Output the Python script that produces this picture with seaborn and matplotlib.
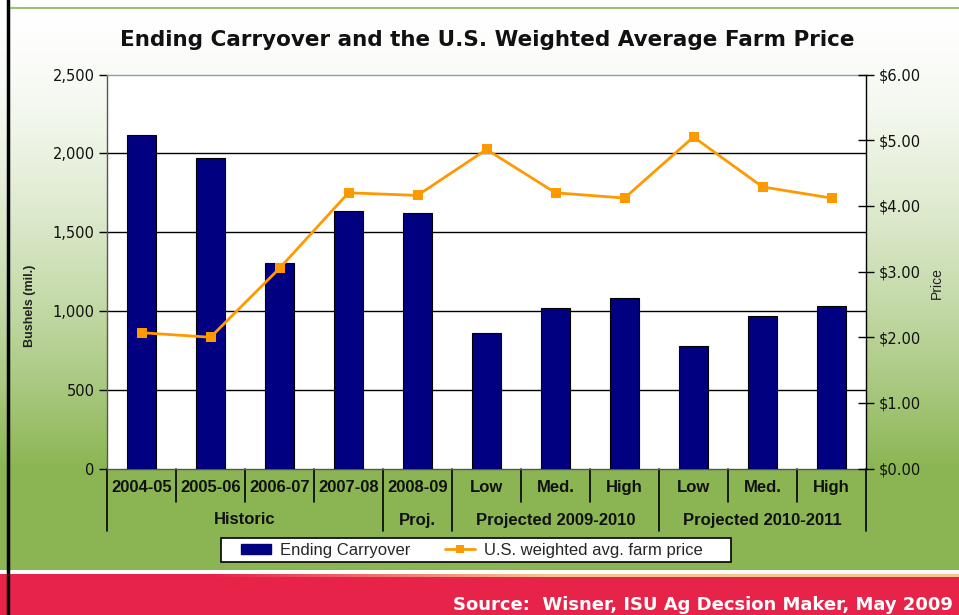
import numpy as np
import pandas as pd
import matplotlib
matplotlib.use("Agg")
import matplotlib.pyplot as plt
import matplotlib.transforms as mtransforms
from matplotlib.patches import Rectangle, Patch
from matplotlib.lines import Line2D
import seaborn as sns

# ---------------- data ----------------
categories = ["2004-05", "2005-06", "2006-07", "2007-08", "2008-09",
              "Low", "Med.", "High", "Low", "Med.", "High"]
groups = ["Historic"] * 4 + ["Proj."] + ["Projected 2009-2010"] * 3 + ["Projected 2010-2011"] * 3
carryover = [2115, 1972, 1305, 1633, 1625, 860, 1017, 1083, 775, 968, 1034]
price = [2.07, 2.00, 3.05, 4.20, 4.16, 4.86, 4.20, 4.12, 5.05, 4.29, 4.12]
left_ticks = [0, 500, 1000, 1500, 2000, 2500]
right_ticks = [0, 1, 2, 3, 4, 5, 6]

title = "Ending Carryover and the U.S. Weighted Average Farm Price"
source = "Source:  Wisner, ISU Ag Decsion Maker, May 2009"
ylabel_left = "Bushels (mil.)"
ylabel_right = "Price"
legend_labels = ["Ending Carryover", "U.S. weighted avg. farm price"]

# ---------------- style ----------------
sns.set_theme(style="white")
plt.rcParams['font.family'] = ['Liberation Sans', 'DejaVu Sans']
WIDE = ['DejaVu Sans']

df = pd.DataFrame({
    "key": [f"{g}|{c}" for g, c in zip(groups, categories)],
    "label": categories,
    "group": groups,
    "carryover": carryover,
    "price": price,
    "pos": np.arange(len(categories)),
})

W, H = 959, 615
fig = plt.figure(figsize=(W / 100, H / 100), dpi=100)

# background (gradient + frame + footer)
bg = fig.add_axes([0, 0, 1, 1], zorder=-10)
bg.set_axis_off()
ys = np.arange(H)
t = np.clip((ys - 10) / (470 - 10), 0, 1) ** 1.5
top_c = np.array([1.0, 1.0, 1.0])
bot_c = np.array([138, 181, 82]) / 255
col = top_c[None, :] * (1 - t[:, None]) + bot_c[None, :] * t[:, None]
img = np.repeat(col[:, None, :], W, axis=1)
bg.imshow(img, extent=[0, W, H, 0], aspect='auto', interpolation='bilinear')
# footer
bg.add_patch(Rectangle((0, 569.5), W, 4, color='white', lw=0))
xs = np.linspace(0, 1, W)
band_t = np.clip((xs - 0.22) / 0.35, 0, 1)
red = np.array([232, 35, 74]) / 255
peach = np.array([248, 195, 140]) / 255
band = red[None, :] * (1 - band_t[:, None]) + peach[None, :] * band_t[:, None]
bg.imshow(band[None, :, :], extent=[0, W, 577, 573], aspect='auto')
bg.add_patch(Rectangle((0, 577), W, H - 577, color='#E8234A', lw=0))
# frame lines
bg.add_patch(Rectangle((0, 0), W, 7, color='white', lw=0))
bg.plot([8, W], [8, 8], color='#9BC46A', lw=1.5)
bg.plot([8, 8], [0, H], color='black', lw=2.5)
# legend box
bg.add_patch(Rectangle((221, 538), 510, 24, facecolor='white', edgecolor='black', lw=1.2))
bg.set_xlim(0, W)
bg.set_ylim(H, 0)

# ---------------- main axes ----------------
y0, y1 = 468.6, 74.6
ax = fig.add_axes([107 / W, 1 - y0 / H, (866 - 107) / W, (y0 - y1) / H])
ax.set_facecolor('white')
sns.barplot(data=df, x="key", y="carryover", color="#000080", saturation=1,
            width=0.41, edgecolor="black", linewidth=0.8, ax=ax, zorder=3)
ax.set_xlim(-0.5, len(categories) - 0.5)
ax.set_ylim(0, 2500)
for v in left_ticks[1:-1]:
    ax.axhline(v, color='black', lw=1, zorder=1)
ax.set_yticks(left_ticks)
ax.set_yticklabels([f"{v:,}" for v in left_ticks], family=WIDE, fontsize=10.5)
ax.tick_params(axis='y', direction='out', length=6, width=1, color='black',
               pad=3, left=True, labelcolor='#111111')
ax.set_xticks(range(len(categories)))
ax.set_xticklabels(categories, fontweight='bold', fontsize=12)
ax.tick_params(axis='x', length=0, pad=8, labelcolor='#111111')
ax.set_xlabel("")
ax.set_ylabel("")
for s in ['left', 'bottom']:
    ax.spines[s].set_color('#555555')
    ax.spines[s].set_linewidth(1)
ax.spines['top'].set_color('#999999')
ax.spines['top'].set_linewidth(1)
ax.spines['right'].set_visible(False)

# category separators and group labels
trans = mtransforms.blended_transform_factory(ax.transData, ax.transAxes)
axh = y0 - y1
short_d = 33 / axh
long_d = 62 / axh
group_bounds = {-0.5, len(categories) - 0.5}
for i in range(1, len(groups)):
    if groups[i] != groups[i - 1]:
        group_bounds.add(i - 0.5)
for b in np.arange(-0.5, len(categories)):
    d = long_d if b in group_bounds else short_d
    ax.plot([b, b], [0, -d], transform=trans, color='black', lw=1.2, clip_on=False)
seen = []
for g in groups:
    if g not in seen:
        seen.append(g)
for g in seen:
    idx = [i for i, gg in enumerate(groups) if gg == g]
    cx = (idx[0] + idx[-1]) / 2
    ax.text(cx, -(520 - y0) / axh, g, transform=trans, ha='center', va='center',
            fontsize=12, fontweight='bold', color='#111111')

# ---------------- secondary axis ----------------
ax2 = ax.twinx()
sns.lineplot(data=df, x="pos", y="price", color="#FF9900", marker="s",
             markersize=7, markeredgewidth=0, lw=2, ax=ax2, zorder=5)
ax2.set_ylim(0, 6)
ax2.set_xlim(-0.5, len(categories) - 0.5)
ax2.set_yticks(right_ticks)
ax2.set_yticklabels([f"${v:.2f}" for v in right_ticks], family=WIDE, fontsize=10.5)
ax2.tick_params(axis='y', direction='inout', length=12, width=1, color='black',
                pad=3, right=True, labelcolor='#111111')
ax2.set_xlabel("")
ax2.set_ylabel("")
for s in ['left', 'top', 'bottom']:
    ax2.spines[s].set_visible(False)
ax2.spines['right'].set_color('black')
ax2.spines['right'].set_linewidth(1)

# ---------------- texts ----------------
fig.text(487.5 / W, 1 - 45.5 / H, title, ha='center', va='baseline',
         fontsize=15.5, fontweight='bold', color='#111111', family=WIDE)
fig.text(30 / W, 1 - 306 / H, ylabel_left, rotation=90, ha='center', va='center',
         fontsize=9, fontweight='bold', color='#222222')
fig.text(937 / W, 1 - 283 / H, ylabel_right, rotation=90, ha='center', va='center',
         fontsize=10, color='#222222')
fig.text(953 / W, 1 - 610 / H, source, ha='right', va='baseline',
         fontsize=13, fontweight='bold', color='white', family=WIDE)

# ---------------- legend ----------------
fs_leg = 12
px = fs_leg * 100 / 72
handles = [Patch(facecolor='#000080', edgecolor='#000080'),
           Line2D([], [], color='#FF9900', lw=2, marker='s', markersize=6, markeredgewidth=0)]
leg = fig.legend(handles, legend_labels, loc='center left', bbox_to_anchor=(241 / W, 1 - 550.5 / H),
                 ncol=2, frameon=False, fontsize=fs_leg, handlelength=30 / px,
                 handleheight=10 / px, columnspacing=35 / px, borderpad=0,
                 handletextpad=9 / px, borderaxespad=0)

fig.savefig("out.png", dpi=100)
